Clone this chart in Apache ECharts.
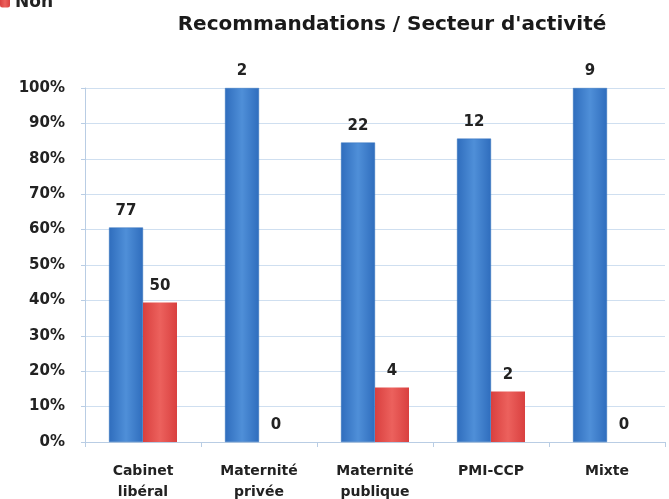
<!DOCTYPE html>
<html>
<head>
<meta charset="utf-8">
<script src="https://cdn.jsdelivr.net/npm/echarts@6/dist/echarts.min.js"></script>
<style>
  html, body { margin: 0; padding: 0; background: #fff; }
  #chart { width: 669px; height: 499px; }
</style>
</head>
<body>
<div id="chart"></div>
<script>
// catégories et valeurs
var secteurs = ['Cabinet\nlibéral', 'Maternité\nprivée', 'Maternité\npublique', 'PMI-CCP', 'Mixte'];
var ouiPct = [60.6, 100, 84.6, 85.7, 100];
var nonPct = [39.4, 0, 15.4, 14.3, 0];
var ouiNb = [77, 2, 22, 12, 9];
var nonNb = [50, 0, 4, 2, 0];
var yTicks = [0, 10, 20, 30, 40, 50, 60, 70, 80, 90, 100];

var police = '"DejaVu Sans", "Open Sans", sans-serif';

function degrade(fonce, clair) {
    return new echarts.graphic.LinearGradient(0, 0, 1, 0, [
        { offset: 0, color: fonce },
        { offset: 0.5, color: clair },
        { offset: 1, color: fonce }
    ]);
}

var chart = echarts.init(document.getElementById('chart'));

chart.setOption({
    animation: false,
    title: {
        text: "Recommandations / Secteur d'activité",
        left: 387,
        textAlign: 'center',
        top: 10,
        textStyle: { fontFamily: police, fontWeight: 'bold', fontSize: 20, color: '#1a1a1a' }
    },
    legend: {
        data: ['Non'],
        left: -5,
        top: -11,
        itemWidth: 10,
        itemHeight: 10,
        itemGap: 7,
        textStyle: { fontFamily: police, fontWeight: 'bold', fontSize: 17, color: '#222' }
    },
    grid: { left: 85, right: 4, top: 88, bottom: 57, containLabel: false, outerBoundsMode: 'none' },
    xAxis: {
        type: 'category',
        data: secteurs,
        axisLine: { lineStyle: { color: '#b9cde4' } },
        axisTick: { show: true, length: 5, lineStyle: { color: '#b9cde4' } },
        axisLabel: {
            fontFamily: police, fontWeight: 'bold', fontSize: 14, color: '#222',
            margin: 19, lineHeight: 21
        }
    },
    yAxis: {
        type: 'value',
        min: 0,
        max: 100,
        interval: 10,
        axisLine: { show: true, lineStyle: { color: '#b9cde4' } },
        axisTick: { show: true, length: 4, lineStyle: { color: '#b9cde4' } },
        splitLine: { lineStyle: { color: '#cfdff0' } },
        axisLabel: {
            margin: 20,
            fontFamily: police, fontWeight: 'bold', fontSize: 15, color: '#222',
            formatter: function (v) { return yTicks.indexOf(v) >= 0 ? v + '%' : ''; }
        }
    },
    series: [
        {
            name: 'Oui',
            type: 'bar',
            barWidth: 34,
            barGap: '0%',
            data: ouiPct,
            itemStyle: { color: degrade('#2f6dbd', '#4f8fd8'), borderColor: '#3270bd', borderWidth: 0.5 },
            label: {
                show: true, position: 'top', distance: 9,
                fontFamily: police, fontWeight: 'bold', fontSize: 15, color: '#222',
                formatter: function (p) { return ouiNb[p.dataIndex]; }
            }
        },
        {
            name: 'Non',
            type: 'bar',
            barWidth: 34,
            data: nonPct,
            itemStyle: { color: degrade('#d9403f', '#ec615d') },
            label: {
                show: true, position: 'top', distance: 9,
                fontFamily: police, fontWeight: 'bold', fontSize: 15, color: '#222',
                formatter: function (p) { return nonNb[p.dataIndex]; }
            }
        }
    ]
});
</script>
</body>
</html>
